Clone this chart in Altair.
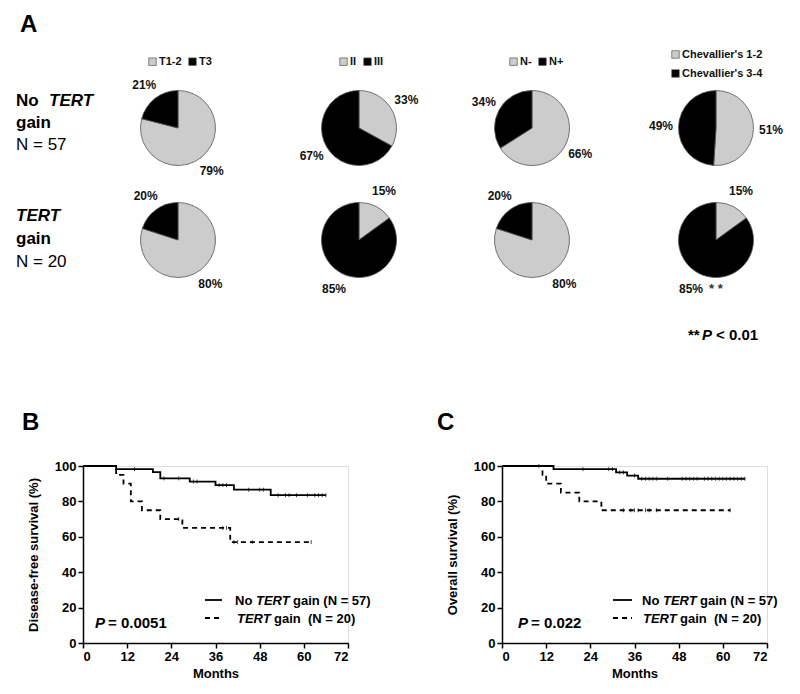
import altair as alt
import pandas as pd

FONT = "Liberation Sans"
GRAY = "#cccccc"

# ---------------- Panel A data ----------------
pie_categories = [["T1-2", "T3"], ["II", "III"], ["N-", "N+"],
                  ["Chevallier's 1-2", "Chevallier's 3-4"]]
no_gain_pcts = [[79, 21], [33, 67], [66, 34], [51, 49]]
gain_pcts = [[80, 20], [15, 85], [80, 20], [15, 85]]

# ---------------- Panel B data (disease-free survival) ----------------
b_no_t = [0, 9, 19, 21, 29, 36, 41, 51, 66]
b_no_s = [100, 98.2, 96.5, 93.0, 91.2, 89.2, 86.6, 83.5, 83.5]
b_gain_t = [0, 9, 11, 13, 16, 21, 27, 40, 62]
b_gain_s = [100, 95, 90, 80, 75, 70, 65, 57, 57]
b_no_cens = [14, 22, 26, 30, 31, 37, 38, 39, 45, 48, 49, 53, 55, 56, 58, 61, 63, 64, 65, 66]
b_gain_cens = [26, 38, 39, 41, 42, 46, 62]

# ---------------- Panel C data (overall survival) ----------------
c_no_t = [0, 14, 31, 34, 37, 66]
c_no_s = [100, 98.2, 96.4, 94.6, 92.8, 92.8]
c_gain_t = [0, 11, 12, 16, 21, 27, 62]
c_gain_s = [100, 95, 90, 85, 80, 75, 75]
c_no_cens = [10, 22, 29, 30, 32, 33, 36, 38, 39, 40, 41, 42, 45, 49, 50, 51, 52, 53,
             55, 56, 57, 58, 59, 60, 61, 62, 63, 64, 65, 66]
c_gain_cens = [33, 35, 36, 37, 39, 40, 42, 62]


def one():
    return alt.Data(values=[{"a": 1}])


def txt(s, x, y, size=12, weight="bold", style="normal", align="left", baseline="alphabetic", color="black"):
    return alt.Chart(one()).mark_text(
        text=s, font=FONT, fontSize=size, fontWeight=weight, fontStyle=style,
        align=align, baseline=baseline, color=color
    ).encode(x=alt.value(x), y=alt.value(y))


TOP_W = 680
TOP_H = 224
pie_cx = [95, 276, 449, 633]
row_cy = [56, 168]
leg_x = [64, 255, 425, 587]


def leg(x, y, direction="horizontal"):
    return alt.Legend(orient="none", legendX=x, legendY=y, direction=direction, title=None,
                      symbolType="square", symbolSize=56, symbolStrokeColor="#555555",
                      symbolStrokeWidth=0.7, labelFont=FONT, labelFontSize=11,
                      labelFontWeight="bold", labelColor="#111111", columnPadding=5,
                      labelOffset=1, rowPadding=7, padding=0)


def pie_layers(cats, pcts, cx, cy, legend):
    df = pd.DataFrame({"cat": cats, "pct": pcts, "order": [0, 1],
                       "label": [f"{p}%" for p in pcts]})
    base = alt.Chart(df)
    if legend is None:
        color = alt.Color("cat:N", scale=alt.Scale(domain=cats, range=[GRAY, "#000000"]),
                          legend=None)
    else:
        color = alt.Color("cat:N", scale=alt.Scale(domain=cats, range=[GRAY, "#000000"]),
                          legend=legend)
    arc = base.mark_arc(outerRadius=37.5, stroke="#555555", strokeWidth=0.8).encode(
        theta=alt.Theta("pct:Q", stack=True, scale=alt.Scale(domain=[0, 100])),
        order=alt.Order("order:Q"),
        color=color,
        x=alt.value(cx), y=alt.value(cy),
    )
    lab = base.mark_text(radius=55, font=FONT, fontSize=12, fontWeight="bold",
                         color="#111111").encode(
        theta=alt.Theta("pct:Q", stack=True, scale=alt.Scale(domain=[0, 100])),
        order=alt.Order("order:Q"),
        text="label:N",
        x=alt.value(cx), y=alt.value(cy),
    )
    return [arc, lab]


layers = []
for i in range(4):
    if i < 3:
        l1 = leg(leg_x[i], -16)
    else:
        l1 = leg(leg_x[i], -23, "vertical")
    layers += pie_layers(pie_categories[i], no_gain_pcts[i], pie_cx[i], row_cy[0], l1)
for i in range(4):
    layers += pie_layers(pie_categories[i], gain_pcts[i], pie_cx[i], row_cy[1], None)

R2 = 112
annot = [
    txt("A", -63, -40, size=24),
    txt("No", -67, 34, size=17),
    txt("TERT", -34, 34, size=17, style="italic"),
    txt("gain", -67, 56, size=17),
    txt("N = 57", -67, 78, size=17, weight="normal"),
    txt("TERT", -67, R2 + 37, size=17, style="italic"),
    txt("gain", -67, R2 + 60, size=17),
    txt("N = 20", -67, R2 + 83, size=17, weight="normal"),
    txt("* *", 510 + 116, R2 + 109, size=13, color="#333333"),
    txt("**", 510 + 95, R2 + 156, size=15),
    txt("P", 510 + 109, R2 + 156, size=15, style="italic"),
    txt("< 0.01", 510 + 123, R2 + 156, size=15),
]

top = alt.layer(*layers, *annot).resolve_scale(color="independent").properties(
    width=TOP_W, height=TOP_H, view=alt.ViewBackground(strokeOpacity=0, strokeWidth=0))

# ---------------- KM panels ----------------
KM_W = 265
KM_H = 177


def step_value(ts, ss, t):
    v = ss[0]
    for ti, si in zip(ts, ss):
        if ti <= t:
            v = si
    return v


def km(letter, letter_x, ytitle, no_t, no_s, g_t, g_s, no_c, g_c, pval, leg_line_x, leg_text_x, leg_text2_x):
    xs = alt.Scale(domain=[0, 72], nice=False)
    ys = alt.Scale(domain=[0, 100], nice=False)
    common = dict(grid=False, domainColor="black", domainWidth=1.5, tickColor="black",
                  tickWidth=1.5, tickSize=5, labelFont=FONT, labelFontSize=13,
                  labelFontWeight="bold", labelColor="black", titleFont=FONT, titleFontSize=13,
                  titleFontWeight="bold", titleColor="black", labelPadding=2, labelOverlap=False)
    xaxis = alt.Axis(values=list(range(0, 73, 12)), title="Months", titlePadding=4, **common)
    yaxis = alt.Axis(values=list(range(0, 101, 20)), title=ytitle, titlePadding=14, **common)
    X = alt.X("t:Q", scale=xs, axis=xaxis)
    Y = alt.Y("s:Q", scale=ys, axis=yaxis)
    df_no = pd.DataFrame({"t": no_t, "s": no_s})
    df_g = pd.DataFrame({"t": g_t, "s": g_s})
    line_no = alt.Chart(df_no).mark_line(interpolate="step-after", color="black",
                                         strokeWidth=1.8).encode(x=X, y=Y)
    line_g = alt.Chart(df_g).mark_line(interpolate="step-after", color="black",
                                       strokeWidth=1.8, strokeDash=[5, 4]).encode(x=X, y=Y)
    cens = pd.DataFrame({
        "t": list(no_c) + list(g_c),
        "s": [step_value(no_t, no_s, c) for c in no_c] + [step_value(g_t, g_s, c) for c in g_c],
    })
    ticks = alt.Chart(cens).mark_point(shape="M0,-1L0,1", size=16, color="black",
                                       strokeWidth=1, filled=False).encode(x=X, y=Y)
    l1 = alt.Chart(one()).mark_rule(color="black", strokeWidth=1.8).encode(
        x=alt.value(leg_line_x[0]), x2=alt.value(leg_line_x[1]), y=alt.value(134))
    l2 = alt.Chart(one()).mark_rule(color="black", strokeWidth=1.8, strokeDash=[5, 4]).encode(
        x=alt.value(leg_line_x[0]), x2=alt.value(leg_line_x[1]), y=alt.value(152))
    texts = [
        txt(letter, letter_x, -36, size=24),
        txt("No", leg_text_x, 139, size=13),
        txt("TERT", leg_text_x + 21, 139, size=13, style="italic"),
        txt("gain (N = 57)", leg_text_x + 58, 139, size=13),
        txt("TERT", leg_text2_x, 157, size=13, style="italic"),
        txt("gain\u00a0 (N = 20)", leg_text2_x + 37, 157, size=13),
        txt("P", pval[0], 162, size=15, style="italic"),
        txt("= " + pval[1], pval[0] + 13, 162, size=15),
    ]
    return alt.layer(line_no, line_g, ticks, l1, l2, *texts).properties(width=KM_W, height=KM_H)


chartB = km("B", -61, "Disease-free survival (%)", b_no_t, b_no_s, b_gain_t, b_gain_s,
            b_no_cens, b_gain_cens, (12, "0.0051"), (122, 139), 152, 154)
chartC = km("C", -65, "Overall survival (%)", c_no_t, c_no_s, c_gain_t, c_gain_s,
            c_no_cens, c_gain_cens, (16, "0.022"), (111, 130), 140, 141)

bottom = alt.hconcat(chartB, chartC, spacing=154, bounds="flush")

chart = alt.vconcat(top, bottom, spacing=170, bounds="flush").properties(
    padding={"left": 8, "top": 5, "right": 0, "bottom": 0}
).configure_view(strokeWidth=0, strokeOpacity=0).configure_axis(
    labelOverlap=False
).configure(font=FONT)

chart.save("out.html", embed_options={"renderer": "svg", "actions": False})
